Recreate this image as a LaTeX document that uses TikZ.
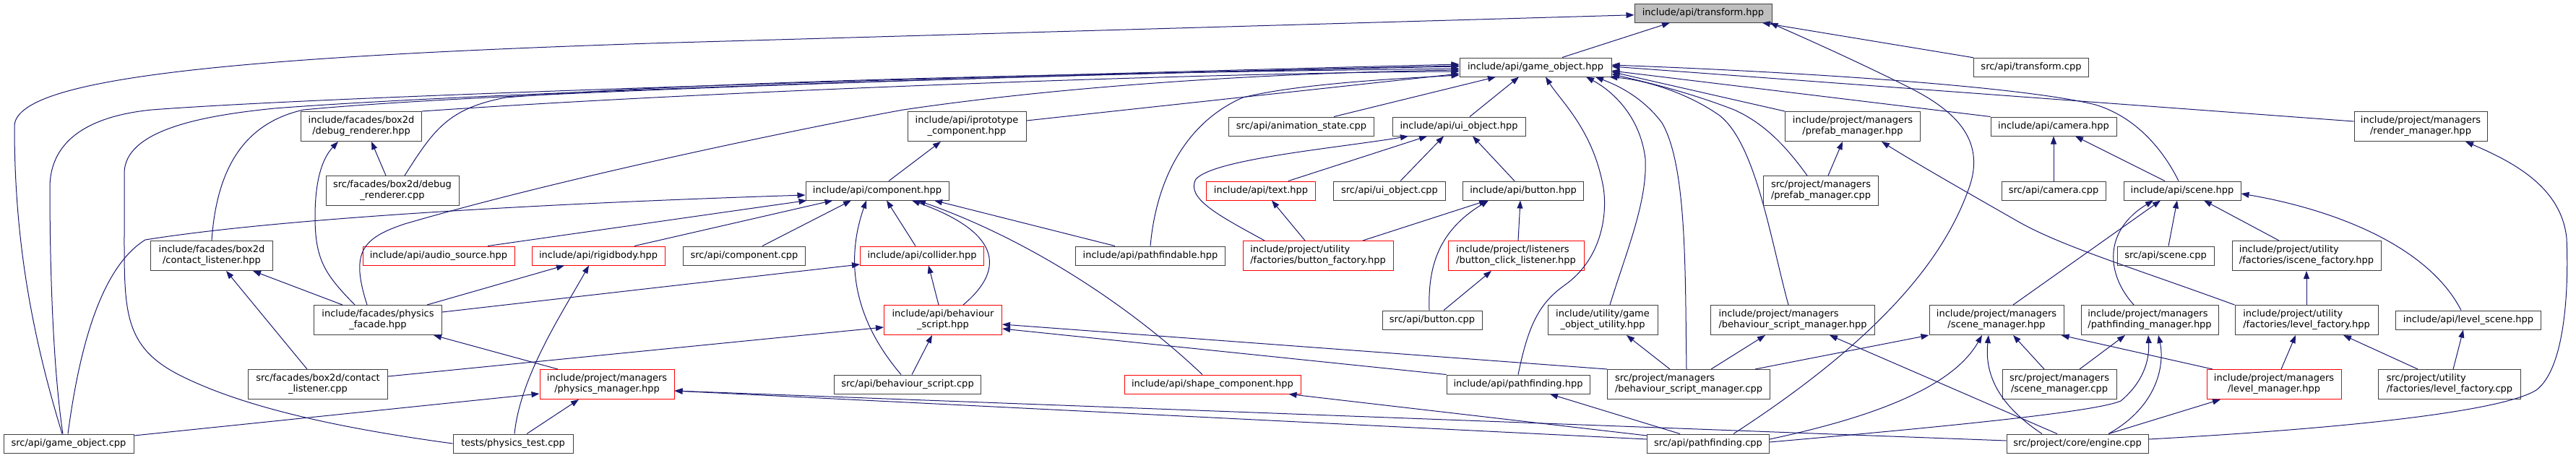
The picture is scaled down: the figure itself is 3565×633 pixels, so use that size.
\documentclass[tikz,border=0pt]{standalone}
\usepackage{fontspec}
\setmainfont{DejaVu Sans}
\usetikzlibrary{arrows.meta,positioning}
\definecolor{edgeblue}{RGB}{25,25,112}
\definecolor{boxgrey}{RGB}{64,64,64}
\definecolor{rootgrey}{RGB}{191,191,191}

\begin{document}
\begin{tikzpicture}[x=1pt, y=-1pt,
        file/.style={rectangle, draw=boxgrey, fill=white, line width=1pt, minimum height=26pt, inner xsep=3pt, inner ysep=2pt, font=\fontsize{13}{15}\selectfont},
        two/.style={minimum height=41pt, align=center},
        twol/.style={minimum height=41pt, align=left},
        trunc/.style={file, draw=red},
        root/.style={file, fill=rootgrey},
        dep/.style={-{Triangle[length=11pt,width=8pt]}, draw=edgeblue, line width=1pt}
    ]
        \useasboundingbox (0,0) rectangle (3565,633);

        % row 1 and 2
        \node[root, minimum width=190pt] (transform) at (2357,18) {include/api/transform.hpp};
        \node[file, minimum width=210pt] (gameobj) at (2125,93) {include/api/game\_object.hpp};
        \node[file, minimum width=159pt] (transformcpp) at (2811,93) {src/api/transform.cpp};

        % row 3
        \node[file, two, minimum width=167pt] (dbgrend) at (500,175) {include/facades/box2d\\/debug\_renderer.hpp};
        \node[file, two, minimum width=164pt] (proto) at (1338,175) {include/api/iprototype\\\_component.hpp};
        \node[file, minimum width=201pt] (animcpp) at (1801,175) {src/api/animation\_state.cpp};
        \node[file, minimum width=184pt] (uiobj) at (2019,175) {include/api/ui\_object.hpp};
        \node[file, two, minimum width=187pt] (prefab) at (2564,175) {include/project/managers\\/prefab\_manager.hpp};
        \node[file, minimum width=174pt] (camera) at (2842,175) {include/api/camera.hpp};
        \node[file, two, minimum width=184pt] (render) at (3350,175) {include/project/managers\\/render\_manager.hpp};

        % row 4
        \node[file, two, minimum width=184pt] (dbgrendcpp) at (543,264) {src/facades/box2d/debug\\\_renderer.cpp};
        \node[file, minimum width=198pt] (component) at (1214,264) {include/api/component.hpp};
        \node[trunc, minimum width=151pt] (text) at (1745,264) {include/api/text.hpp};
        \node[file, minimum width=155pt] (uiobjcpp) at (1923,264) {src/api/ui\_object.cpp};
        \node[file, minimum width=167pt] (button) at (2108,264) {include/api/button.hpp};
        \node[file, twol, minimum width=159pt] (prefabcpp) at (2520,264) {src/project/managers\\/prefab\_manager.cpp};
        \node[file, minimum width=144pt] (cameracpp) at (2842,264) {src/api/camera.cpp};
        \node[file, minimum width=162pt] (scene) at (3020,264) {include/api/scene.hpp};

        % row 5
        \node[file, two, minimum width=169pt] (contact) at (293,354) {include/facades/box2d\\/contact\_listener.hpp};
        \node[trunc, minimum width=210pt] (audio) at (607,354) {include/api/audio\_source.hpp};
        \node[trunc, minimum width=184pt] (rigid) at (828,354) {include/api/rigidbody.hpp};
        \node[file, minimum width=169pt] (compcpp) at (1030,354) {src/api/component.cpp};
        \node[trunc, minimum width=171pt] (collider) at (1276,354) {include/api/collider.hpp};
        \node[file, minimum width=207pt] (pathable) at (1592,354) {include/api/pathfindable.hpp};
        \node[trunc, twol, minimum width=208pt] (btnfactory) at (1824,354) {include/project/utility\\/factories/button\_factory.hpp};
        \node[trunc, twol, minimum width=188pt] (clicklist) at (2098,354) {include/project/listeners\\/button\_click\_listener.hpp};
        \node[file, minimum width=134pt] (scenecpp) at (2997,354) {src/api/scene.cpp};
        \node[file, twol, minimum width=206pt] (iscenefac) at (3192,354) {include/project/utility\\/factories/iscene\_factory.hpp};

        % row 6
        \node[file, two, minimum width=177pt] (facade) at (523,443) {include/facades/physics\\\_facade.hpp};
        \node[trunc, two, minimum width=163pt] (behscript) at (1305,443) {include/api/behaviour\\\_script.hpp};
        \node[file, minimum width=138pt] (buttoncpp) at (1982,443) {src/api/button.cpp};
        \node[file, two, minimum width=152pt] (goutil) at (2218,443) {include/utility/game\\\_object\_utility.hpp};
        \node[file, twol, minimum width=227pt] (bsmgr) at (2481,443) {include/project/managers\\/behaviour\_script\_manager.hpp};
        \node[file, two, minimum width=186pt] (scenemgr) at (2763,443) {include/project/managers\\/scene\_manager.hpp};
        \node[file, twol, minimum width=190pt] (pathmgr) at (2975,443) {include/project/managers\\/pathfinding\_manager.hpp};
        \node[file, twol, minimum width=198pt] (levelfac) at (3192,443) {include/project/utility\\/factories/level\_factory.hpp};
        \node[file, minimum width=201pt] (levelscene) at (3416,443) {include/api/level\_scene.hpp};

        % row 7
        \node[file, two, minimum width=193pt] (contactcpp) at (440,532) {src/facades/box2d/contact\\\_listener.cpp};
        \node[trunc, two, minimum width=186pt] (physmgr) at (840,532) {include/project/managers\\/physics\_manager.hpp};
        \node[file, minimum width=203pt] (behcpp) at (1256,532) {src/api/behaviour\_script.cpp};
        \node[trunc, minimum width=244pt] (shape) at (1678,532) {include/api/shape\_component.hpp};
        \node[file, minimum width=198pt] (pathhpp) at (2101,532) {include/api/pathfinding.hpp};
        \node[file, twol, minimum width=225pt] (bsmgrcpp) at (2337,532) {src/project/managers\\/behaviour\_script\_manager.cpp};
        \node[file, two, minimum width=158pt] (scenemgrcpp) at (2850,532) {src/project/managers\\/scene\_manager.cpp};
        \node[trunc, two, minimum width=186pt] (levelmgr) at (3147,532) {include/project/managers\\/level\_manager.hpp};
        \node[file, twol, minimum width=197pt] (levelfaccpp) at (3390,532) {src/project/utility\\/factories/level\_factory.cpp};

        % row 8
        \node[file, minimum width=180pt] (gocpp) at (95,614) {src/api/game\_object.cpp};
        \node[file, minimum width=166pt] (phystest) at (710,614) {tests/physics\_test.cpp};
        \node[file, minimum width=169pt] (pathcpp) at (2364,614) {src/api/pathfinding.cpp};
        \node[file, minimum width=196pt] (engine) at (2875,614) {src/project/core/engine.cpp};

        % transform.hpp
        \draw[dep] ([xshift=37pt]gameobj.north) -- ([xshift=-46pt]transform.south);
        \draw[dep] ([xshift=-9pt]gocpp.north) .. controls (40,450) and (20,320) .. (20,175) .. controls (20,110) and (300,80) .. (900,60) -- (transform);
        \draw[dep] (transformcpp) -- (transform);
        \draw[dep] ([xshift=35pt]pathcpp.north) .. controls (2600,470) and (2690,360) .. (2725,260) .. controls (2750,190) and (2700,150) .. (2640,120) .. controls (2560,80) and (2480,45) .. ([xshift=-3pt]transform.south east);

        % game_object.hpp, left side
        \draw[dep] (dbgrend.north east) .. controls (1000,125) and (1700,100) .. ([yshift=-6pt]gameobj.west);
        \draw[dep] ([xshift=17pt]dbgrendcpp.north) .. controls (600,180) and (620,150) .. (700,135) .. controls (1000,110) and (1600,100) .. ([yshift=-2pt]gameobj.west);
        \draw[dep] (contact.north) .. controls (300,230) and (340,170) .. (420,152) .. controls (700,125) and (1600,100) .. ([yshift=2pt]gameobj.west);
        \draw[dep] ([xshift=-8pt]gocpp.north) .. controls (72,500) and (69,350) .. (69,260) .. controls (69,190) and (130,160) .. (210,152) .. controls (500,130) and (1500,102) .. ([yshift=4pt]gameobj.west);
        \draw[dep] (phystest.west) .. controls (450,590) and (330,560) .. (250,520) .. controls (170,480) and (172,430) .. (172,320) -- (172,240) .. controls (172,180) and (280,160) .. (380,150) .. controls (700,125) and (1600,100) .. ([yshift=1pt]gameobj.west);
        \draw[dep] ([xshift=-15pt]facade.north) .. controls (485,350) and (500,330) .. (560,310) .. controls (800,240) and (1150,170) .. (1250,152) .. controls (1500,115) and (1800,100) .. ([yshift=-4pt]gameobj.west);
        \draw[dep] ([yshift=8pt]proto.east) -- ([yshift=-9pt]gameobj.west);
        \draw[dep] (pathable.north) .. controls (1600,250) and (1640,170) .. (1720,135) .. controls (1800,115) and (1950,108) .. ([yshift=-11pt]gameobj.west);
        \draw[dep] ([xshift=45pt]animcpp.north) -- ([xshift=-55pt]gameobj.south);
        \draw[dep] ([xshift=15pt]uiobj.north) -- ([xshift=-23pt]gameobj.south);

        % game_object.hpp, below and right
        \draw[dep] (pathhpp.north) .. controls (2115,450) and (2130,420) .. (2165,395) .. controls (2215,360) and (2225,300) .. (2219,260) .. controls (2205,180) and (2160,140) .. ([xshift=14pt]gameobj.south);
        \draw[dep] ([xshift=10pt]goutil.north) .. controls (2250,350) and (2280,280) .. (2277,220) .. controls (2270,160) and (2230,125) .. ([xshift=70pt]gameobj.south);
        \draw[dep] ([xshift=-3pt]bsmgrcpp.north) .. controls (2332,380) and (2335,230) .. (2300,170) .. controls (2270,130) and (2230,115) .. ([xshift=83pt]gameobj.south);
        \draw[dep] ([xshift=-6pt]bsmgr.north) .. controls (2450,330) and (2430,200) .. (2380,160) .. controls (2330,125) and (2270,110) .. ([xshift=-3pt]gameobj.south east);
        \draw[dep] (prefab.north west) -- ([yshift=7pt]gameobj.south east);
        \draw[dep] ([xshift=-19pt]prefabcpp.north) .. controls (2470,200) and (2440,170) .. (2400,152) .. controls (2330,125) and (2270,112) .. ([yshift=4pt]gameobj.south east);
        \draw[dep] (camera.north west) -- ([yshift=-5pt]gameobj.east);
        \draw[dep] ([xshift=-5pt]scene.north) .. controls (2990,200) and (2950,160) .. (2900,145) .. controls (2800,120) and (2500,100) .. ([yshift=3pt]gameobj.east);
        \draw[dep] ([yshift=7pt]render.west) -- ([yshift=1pt]gameobj.east);

        % component.hpp
        \draw[dep] ([xshift=16pt]component.north) -- ([xshift=-36pt]proto.south);
        \draw[dep] ([xshift=-1pt]gocpp.north) .. controls (110,480) and (140,370) .. (201,332) .. controls (400,300) and (800,280) .. ([yshift=-6pt]component.west);
        \draw[dep] ([xshift=68pt]audio.north) -- ([xshift=2pt]component.south west);
        \draw[dep] ([xshift=50pt]rigid.north) -- ([xshift=38pt]component.south west);
        \draw[dep] ([xshift=25pt]compcpp.north) -- ([xshift=-36pt]component.south);
        \draw[dep] ([xshift=-9pt]behcpp.north) .. controls (1180,440) and (1170,360) .. ([xshift=-15pt]component.south);
        \draw[dep] ([xshift=-9pt]collider.north) -- ([xshift=13pt]component.south);
        \draw[dep] ([xshift=28pt]behscript.north) .. controls (1395,370) and (1380,320) .. ([xshift=48pt]component.south);
        \draw[dep] ([xshift=-14pt]shape.north) .. controls (1560,420) and (1420,330) .. ([xshift=56pt]component.south);
        \draw[dep] ([xshift=-49pt]pathable.north) -- ([xshift=79pt]component.south);

        % facades and physics
        \draw[dep] ([xshift=68pt]facade.north) -- ([xshift=-47pt]rigid.south);
        \draw[dep] ([xshift=2pt]phystest.north) .. controls (720,520) and (780,430) .. ([xshift=-13pt]rigid.south);
        \draw[dep] ([xshift=-15pt]contactcpp.north) -- ([xshift=20pt]contact.south);
        \draw[dep] ([xshift=-49pt]facade.north) -- ([xshift=57pt]contact.south);
        \draw[dep] ([xshift=-32pt]facade.north) .. controls (450,380) and (436,360) .. (436,300) .. controls (436,240) and (450,215) .. ([xshift=-32pt]dbgrend.south);
        \draw[dep] ([xshift=-9pt]dbgrendcpp.north) -- ([xshift=14pt]dbgrend.south);
        \draw[dep] ([yshift=11pt]facade.east) -- ([yshift=-12pt]collider.west);
        \draw[dep] ([xshift=-6pt]behscript.north) -- ([xshift=9pt]collider.south);
        \draw[dep] ([xshift=-68pt]physmgr.north) -- ([xshift=77pt]facade.south);

        % behaviour_script.hpp
        \draw[dep] ([yshift=11pt]contactcpp.east) -- ([yshift=-10pt]behscript.west);
        \draw[dep] ([xshift=6pt]behcpp.north) -- ([xshift=-15pt]behscript.south);
        \draw[dep] (bsmgrcpp.north west) -- ([yshift=-6pt]behscript.east);
        \draw[dep] (pathhpp.north west) -- ([yshift=-12pt]behscript.east);

        % physics_manager.hpp
        \draw[dep] ([yshift=11pt]gocpp.east) -- ([yshift=-13pt]physmgr.west);
        \draw[dep] ([xshift=19pt]phystest.north) -- ([xshift=-39pt]physmgr.south);
        \draw[dep] ([yshift=6pt]pathcpp.west) -- ([yshift=-9pt]physmgr.east);
        \draw[dep] ([yshift=4pt]engine.west) -- ([yshift=-9pt]physmgr.east);

        % pathfinding
        \draw[dep] ([yshift=11pt]pathcpp.west) -- ([xshift=-17pt]shape.south east);
        \draw[dep] ([xshift=-39pt]pathcpp.north) -- ([xshift=44pt]pathhpp.south);

        % ui objects and buttons
        \draw[dep] ([xshift=-74pt]btnfactory.north) .. controls (1690,300) and (1640,275) .. (1655,248) .. controls (1680,220) and (1850,205) .. ([xshift=-70pt]uiobj.south);
        \draw[dep] ([xshift=38pt]text.north) -- ([xshift=-44pt]uiobj.south);
        \draw[dep] ([xshift=15pt]uiobjcpp.north) -- ([xshift=-21pt]uiobj.south);
        \draw[dep] ([xshift=-12pt]button.north) -- ([xshift=19pt]uiobj.south);
        \draw[dep] ([xshift=-18pt]btnfactory.north) -- ([xshift=15pt]text.south);
        \draw[dep] ([xshift=62pt]btnfactory.north) -- ([xshift=-50pt]button.south);
        \draw[dep] ([xshift=-4pt]buttoncpp.north) .. controls (1976,370) and (1990,320) .. ([xshift=-48pt]button.south);
        \draw[dep] ([xshift=3pt]clicklist.north) -- ([xshift=-4pt]button.south);
        \draw[dep] ([xshift=16pt]buttoncpp.north) -- ([xshift=-34pt]clicklist.south);

        % managers
        \draw[dep] ([xshift=-26pt]bsmgrcpp.north) -- ([xshift=33pt]goutil.south);
        \draw[dep] ([xshift=31pt]bsmgrcpp.north) -- ([xshift=-38pt]bsmgr.south);
        \draw[dep] ([xshift=-28pt]engine.north) -- ([xshift=51pt]bsmgr.south);
        \draw[dep] ([xshift=10pt]prefabcpp.north) -- ([xshift=-14pt]prefab.south);
        \draw[dep] (levelfac.north west) .. controls (2950,370) and (2850,340) .. (2790,305) .. controls (2720,265) and (2650,225) .. ([xshift=40pt]prefab.south);

        % camera and scene
        \draw[dep] ([xshift=-24pt]scene.north) -- ([xshift=30pt]camera.south);
        \draw[dep] (cameracpp) -- (camera);
        \draw[dep] ([xshift=23pt]scenemgr.north) -- ([xshift=-30pt]scene.south);
        \draw[dep] ([xshift=-22pt]pathmgr.north) .. controls (2915,380) and (2910,320) .. ([xshift=-40pt]scene.south);
        \draw[dep] ([xshift=4pt]scenecpp.north) -- ([xshift=-7pt]scene.south);
        \draw[dep] ([xshift=-38pt]iscenefac.north) -- ([xshift=30pt]scene.south);
        \draw[dep] ([xshift=-10pt]levelscene.north) .. controls (3360,340) and (3230,290) .. ([yshift=-4pt]scene.east);

        % render_manager.hpp
        \draw[dep] ([yshift=6pt]engine.east) .. controls (3300,590) and (3470,565) .. (3510,540) .. controls (3550,510) and (3555,400) .. (3552,330) .. controls (3545,260) and (3480,225) .. ([xshift=62pt]render.south);

        % scene_manager.hpp and pathfinding_manager.hpp
        \draw[dep] ([xshift=92pt]bsmgrcpp.north) -- (scenemgr.south west);
        \draw[dep] ([yshift=6pt]pathcpp.east) .. controls (2580,580) and (2700,540) .. ([xshift=-20pt]scenemgr.south);
        \draw[dep] ([xshift=-49pt]engine.north) .. controls (2780,570) and (2745,530) .. ([xshift=-11pt]scenemgr.south);
        \draw[dep] ([xshift=-21pt]scenemgrcpp.north) -- ([xshift=23pt]scenemgr.south);
        \draw[dep] ([xshift=-85pt]levelmgr.north) -- ([xshift=-4pt]scenemgr.south east);
        \draw[dep] ([xshift=28pt]scenemgrcpp.north) -- ([xshift=-34pt]pathmgr.south);
        \draw[dep] ([yshift=2pt]pathcpp.east) .. controls (2700,590) and (2900,570) .. (2935,555) .. controls (2965,530) and (2975,500) .. ([xshift=-2pt]pathmgr.south);
        \draw[dep] ([xshift=43pt]engine.north) .. controls (2990,560) and (2995,500) .. ([xshift=12pt]pathmgr.south);

        % level files
        \draw[dep] ([xshift=43pt]engine.north) -- ([xshift=-74pt]levelmgr.south);
        \draw[dep] ([xshift=10pt]levelmgr.north) -- ([xshift=-15pt]levelfac.south);
        \draw[dep] ([xshift=-44pt]levelfaccpp.north) -- ([xshift=51pt]levelfac.south);
        \draw[dep] (levelfac) -- (iscenefac);
        \draw[dep] ([xshift=5pt]levelfaccpp.north) -- ([xshift=-7pt]levelscene.south);
    \end{tikzpicture}
\end{document}
